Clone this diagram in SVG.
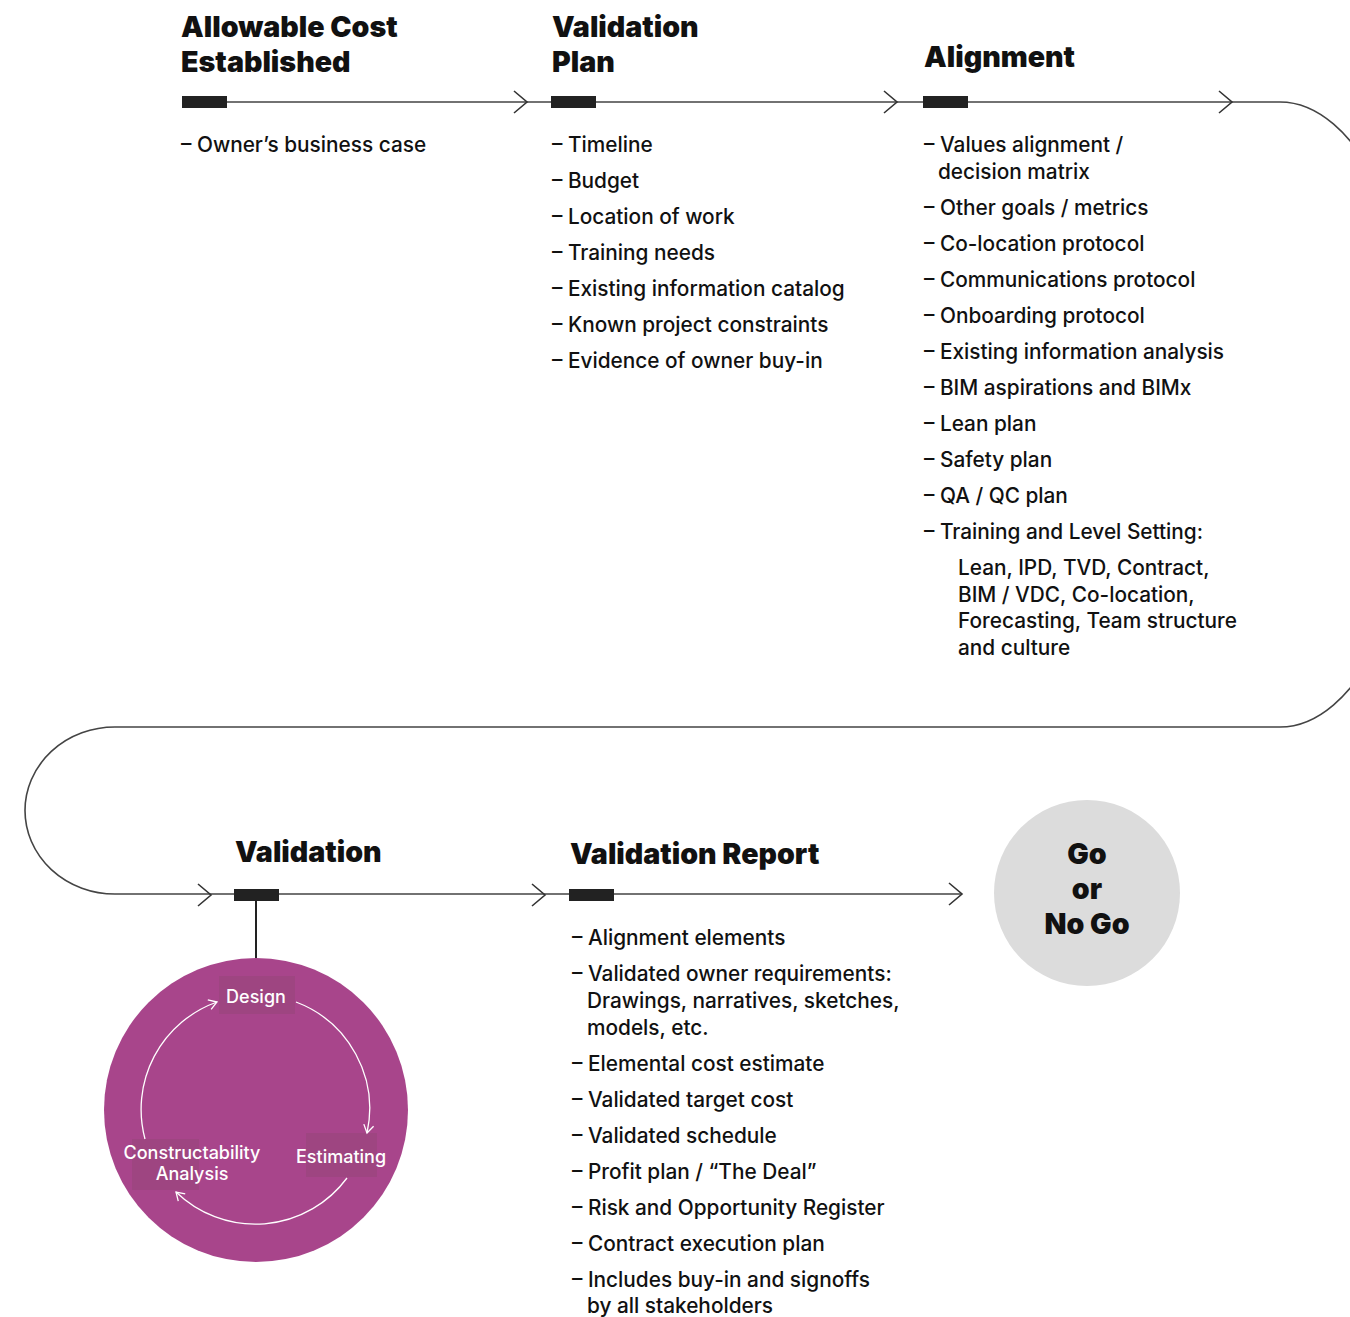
<svg xmlns="http://www.w3.org/2000/svg" width="1350" height="1317" viewBox="0 0 1350 1317">
<defs>
<style>
.h{font-family:Inter,Roboto,"Liberation Sans",sans-serif;font-weight:900;font-size:28.6px;fill:#111}
.t{font-family:Inter,Roboto,"Liberation Sans",sans-serif;font-weight:500;font-size:20.8px;fill:#111}
.w{font-family:Inter,Roboto,"Liberation Sans",sans-serif;font-weight:500;font-size:18px;fill:#fff}
.ln{fill:none;stroke:#444;stroke-width:1.6}
.chev{fill:none;stroke:#333;stroke-width:1.6}
.mk{fill:#222}
.cyc{fill:none;stroke:#fff;stroke-width:1.3}
</style>
<marker id="wa" viewBox="0 0 12 12" refX="10" refY="6" markerWidth="12" markerHeight="12" markerUnits="userSpaceOnUse" orient="auto">
<path d="M2 1 L10 6 L2 11" fill="none" stroke="#fff" stroke-width="1.3"/>
</marker>
<path id="chv" d="M-13 -11 L0 0 L-13 11" class="chev"/>
</defs>
<rect width="1350" height="1317" fill="#fff"/>

<g id="connectors">
<path class="ln" d="M182 102 H1280 A145 312.5 0 0 1 1280 727 H115 A90 83.5 0 0 0 115 894 H962"/>
<use href="#chv" x="527" y="102"/>
<use href="#chv" x="897" y="102"/>
<use href="#chv" x="1232" y="102"/>
<use href="#chv" x="211" y="895"/>
<use href="#chv" x="545" y="895"/>
<use href="#chv" x="962" y="894"/>
<line x1="256" y1="895" x2="256" y2="960" stroke="#222" stroke-width="2"/>
</g>

<g id="node-allowable">
<rect class="mk" x="182" y="96" width="45" height="12"/>
<text class="h" x="181" y="37">Allowable Cost</text>
<text class="h" x="181" y="72">Established</text>
<text class="t" x="181" y="152">– Owner’s business case</text>
</g>

<g id="node-validation-plan">
<rect class="mk" x="551" y="96" width="45" height="12"/>
<text class="h" x="552" y="37">Validation</text>
<text class="h" x="552" y="72">Plan</text>
<text class="t" x="552" y="152">– Timeline</text>
<text class="t" x="552" y="188">– Budget</text>
<text class="t" x="552" y="224">– Location of work</text>
<text class="t" x="552" y="260">– Training needs</text>
<text class="t" x="552" y="296">– Existing information catalog</text>
<text class="t" x="552" y="332">– Known project constraints</text>
<text class="t" x="552" y="368">– Evidence of owner buy-in</text>
</g>

<g id="node-alignment">
<rect class="mk" x="923" y="96" width="45" height="12"/>
<text class="h" x="924" y="67">Alignment</text>
<text class="t" x="924" y="152">– Values alignment /</text>
<text class="t" x="938" y="179">decision matrix</text>
<text class="t" x="924" y="215">– Other goals / metrics</text>
<text class="t" x="924" y="251">– Co-location protocol</text>
<text class="t" x="924" y="287">– Communications protocol</text>
<text class="t" x="924" y="323">– Onboarding protocol</text>
<text class="t" x="924" y="359">– Existing information analysis</text>
<text class="t" x="924" y="395">– BIM aspirations and BIMx</text>
<text class="t" x="924" y="431">– Lean plan</text>
<text class="t" x="924" y="467">– Safety plan</text>
<text class="t" x="924" y="503">– QA / QC plan</text>
<text class="t" x="924" y="539">– Training and Level Setting:</text>
<text class="t" x="958" y="575">Lean, IPD, TVD, Contract,</text>
<text class="t" x="958" y="602">BIM / VDC, Co-location,</text>
<text class="t" x="958" y="628">Forecasting, Team structure</text>
<text class="t" x="958" y="655">and culture</text>
</g>

<g id="node-validation">
<rect class="mk" x="234" y="889" width="45" height="12"/>
<text class="h" x="235" y="862">Validation</text>
<circle cx="256" cy="1110" r="152" fill="#A8458B"/>
<rect x="219" y="976" width="76" height="38" fill="#9E4581"/>
<rect x="306" y="1133" width="71" height="44" fill="#9E4581"/>
<rect x="132" y="1139" width="67" height="51" fill="#9E4581"/>
<path class="cyc" d="M296 1002 A114 114 0 0 1 367 1133" marker-end="url(#wa)"/>
<path class="cyc" d="M347 1178 A114 114 0 0 1 176 1192" marker-end="url(#wa)"/>
<path class="cyc" d="M145 1139 A114 114 0 0 1 217 1002" marker-end="url(#wa)"/>
<text class="w" x="256" y="1003" text-anchor="middle">Design</text>
<text class="w" x="341" y="1163" text-anchor="middle">Estimating</text>
<text class="w" x="192" y="1159" text-anchor="middle">Constructability</text>
<text class="w" x="192" y="1180" text-anchor="middle">Analysis</text>
</g>

<g id="node-validation-report">
<rect class="mk" x="569" y="889" width="45" height="12"/>
<text class="h" x="570" y="864">Validation Report</text>
<text class="t" x="572" y="945">– Alignment elements</text>
<text class="t" x="572" y="981">– Validated owner requirements:</text>
<text class="t" x="587" y="1008">Drawings, narratives, sketches,</text>
<text class="t" x="587" y="1035">models, etc.</text>
<text class="t" x="572" y="1071">– Elemental cost estimate</text>
<text class="t" x="572" y="1107">– Validated target cost</text>
<text class="t" x="572" y="1143">– Validated schedule</text>
<text class="t" x="572" y="1179">– Profit plan / “The Deal”</text>
<text class="t" x="572" y="1215">– Risk and Opportunity Register</text>
<text class="t" x="572" y="1251">– Contract execution plan</text>
<text class="t" x="572" y="1287">– Includes buy-in and signoffs</text>
<text class="t" x="587" y="1313">by all stakeholders</text>
</g>

<g id="node-go">
<circle cx="1087" cy="893" r="93" fill="#DCDCDC"/>
<text class="h" x="1087" y="864" text-anchor="middle">Go</text>
<text class="h" x="1087" y="899" text-anchor="middle">or</text>
<text class="h" x="1087" y="934" text-anchor="middle">No Go</text>
</g>
</svg>
